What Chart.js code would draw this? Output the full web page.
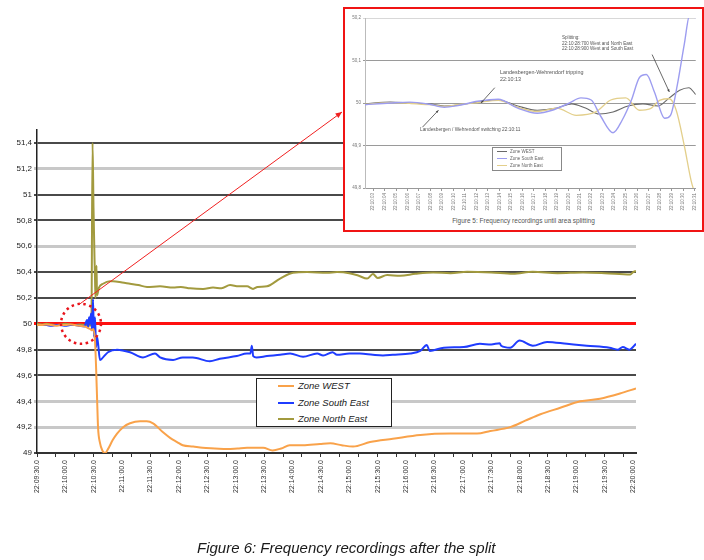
<!DOCTYPE html>
<html>
<head>
<meta charset="utf-8">
<title>Frequency recordings after the split</title>
<script src="https://cdn.jsdelivr.net/npm/chart.js@4.4.1/dist/chart.umd.min.js"></script>
<style>
  body { margin: 0; background: #fff; font-family: 'Liberation Sans', Arial, sans-serif; }
  #page { position: relative; width: 704px; height: 560px; overflow: hidden; background: #fff; }
  #mainBox { position: absolute; left: 0; top: 0; width: 704px; height: 560px; }

  #legend { position: absolute; left: 256px; top: 378px; width: 134px; height: 47px; border: 1.5px solid #222; background: #fff; font-size: 9.5px; font-style: italic; color: #222; }
  #legend div { position: absolute; left: 21px; height: 12px; line-height: 12px; white-space: nowrap; }
  #legend span { display: inline-block; width: 16px; height: 2px; vertical-align: middle; margin-right: 4px; }

  #inset { position: absolute; left: 343px; top: 7px; width: 361px; height: 225px; box-sizing: border-box; border: 2px solid #f01414; background: #fff; overflow: hidden; }
  #insetBox { position: absolute; left: 0; top: 0; width: 357px; height: 205px; }
  .note { position: absolute; font-size: 5px; line-height: 6px; color: #555; white-space: nowrap; }
  #insetLegend { position: absolute; left: 147px; top: 138px; width: 68px; height: 22px; border: 1px solid #888; background: #fff; font-size: 4.5px; color: #666; }
  #insetLegend div { position: absolute; left: 4px; height: 6px; line-height: 6px; white-space: nowrap; }
  #insetLegend span { display: inline-block; width: 10px; height: 1px; vertical-align: middle; margin-right: 3px; }
  #insetCaption { position: absolute; left: 0; width: 357px; top: 208px; text-align: center; font-size: 6.5px; color: #555; }

  #caption { position: absolute; left: 197px; top: 539px; font-size: 15px; font-style: italic; color: #1a1a1a; white-space: nowrap; }
</style>
</head>
<body>
<div id="page">
  <div id="mainBox"><canvas id="mainChart"></canvas></div>

  <div id="legend">
    <div style="top:1px"><span style="background:#f9a24a"></span>Zone WEST</div>
    <div style="top:18px"><span style="background:#1f3cff"></span>Zone South East</div>
    <div style="top:34px"><span style="background:#a29a3e"></span>Zone North East</div>
  </div>

  <div id="inset">
    <div id="insetBox"><canvas id="insetChart"></canvas></div>
    <div class="note" style="left:217px; top:26px; font-size:4.6px; line-height:5.5px">Splitting:<br>22:10:28:700 West and North East<br>22:10:28:900 West and South East</div>
    <div class="note" style="left:155px; top:60px; font-size:5.4px; line-height:6.5px">Landesbergen-Wehrendorf tripping<br>22:10:13</div>
    <div class="note" style="left:75px; top:118px; font-size:4.8px">Landesbergen / Wehrendorf switching 22:10:11</div>
    <div id="insetLegend">
      <div style="top:1px"><span style="background:#6a6a6a"></span>Zone WEST</div>
      <div style="top:8px"><span style="background:#9d9df0"></span>Zone South East</div>
      <div style="top:15px"><span style="background:#e3cf8b"></span>Zone North East</div>
    </div>
    <div id="insetCaption">Figure 5: Frequency recordings until area splitting</div>
  </div>

  <div id="caption">Figure 6: Frequency recordings after the split</div>
</div>

<script>
// --------------------------------------------------------------------
// Data (seconds after 22:09:30, frequency in Hz)
// --------------------------------------------------------------------
const timeTicks = ['22:09:30.0', '22:10:00.0', '22:10:30.0', '22:11:00.0', '22:11:30.0', '22:12:00.0',
    '22:12:30.0', '22:13:00.0', '22:13:30.0', '22:14:00.0', '22:14:30.0', '22:15:00.0', '22:15:30.0',
    '22:16:00.0', '22:16:30.0', '22:17:00.0', '22:17:30.0', '22:18:00.0', '22:18:30.0', '22:19:00.0',
    '22:19:30.0', '22:20:00.0'];
const hzTicks = [49, 49.2, 49.4, 49.6, 49.8, 50, 50.2, 50.4, 50.6, 50.8, 51, 51.2, 51.4];
const hzLabels = ['49', '49,2', '49,4', '49,6', '49,8', '50', '50,2', '50,4', '50,6', '50,8', '51', '51,2', '51,4'];

const westSec = [0, 5, 10, 15, 20, 25, 30, 35, 40, 45,
    50, 53, 56, 58, 59.5, 61.3, 62.5, 63.5, 64.5, 66.5,
    69, 72, 75, 80, 84.6, 91, 98.3, 108.9, 116, 122.6,
    133.2, 141, 148, 154, 165, 175, 188, 201, 212, 222,
    239, 249, 258, 267, 281, 299, 310, 322, 334, 352,
    376, 405, 437, 465, 479, 500, 516, 532, 553, 574,
    595, 616, 633];
const westHz = [49.99, 49.99, 49.995, 49.99, 49.985, 49.99, 49.99, 49.995, 49.99, 49.985,
    49.98, 49.97, 49.96, 49.95, 49.96, 49.87, 49.65, 49.42, 49.2, 49.08,
    49.02, 49.0, 49.03, 49.1, 49.15, 49.2, 49.23, 49.245, 49.245, 49.23,
    49.16, 49.115, 49.085, 49.06, 49.05, 49.04, 49.035, 49.03, 49.035, 49.04,
    49.04, 49.02, 49.035, 49.06, 49.06, 49.07, 49.075, 49.06, 49.05, 49.085,
    49.11, 49.14, 49.15, 49.15, 49.17, 49.2, 49.25, 49.3, 49.35, 49.4,
    49.42, 49.46, 49.5];

const southEastSec = [0, 5, 10, 15, 20, 25, 30, 35, 40, 45,
    50, 52.9, 53.9, 55, 56, 57.1, 58.1, 59.2, 60.2, 61.3,
    62.4, 63.4, 64.5, 66.6, 69.8, 75, 84.6, 98.3, 112, 124.7,
    130, 143.8, 154, 164.6, 182.6, 193.2, 211.2, 221.8, 225.5, 227,
    228.5, 232, 243, 256.9, 267.5, 281.2, 296, 302.4, 312.3, 317,
    330, 341.3, 355, 365.6, 376, 394.3, 405, 412, 415, 429.9,
    451, 468, 480, 489, 490.5, 500, 510, 524, 539, 560,
    581, 605, 614, 619, 626, 633];
const southEastHz = [49.99, 49.99, 49.99, 49.985, 49.99, 49.99, 49.985, 49.99, 49.99, 49.985,
    49.98, 50.03, 49.97, 50.05, 50.0, 50.08, 49.95, 50.19, 49.9, 50.05,
    49.82, 49.9, 49.85, 49.72, 49.74, 49.78, 49.8, 49.78, 49.74, 49.77,
    49.74, 49.72, 49.74, 49.74, 49.71, 49.73, 49.75, 49.77, 49.77, 49.83,
    49.75, 49.74, 49.75, 49.76, 49.77, 49.745, 49.77, 49.755, 49.78, 49.76,
    49.77, 49.77, 49.76, 49.755, 49.76, 49.77, 49.79, 49.835, 49.79, 49.815,
    49.82, 49.845, 49.84, 49.85, 49.83, 49.815, 49.87, 49.83, 49.86, 49.845,
    49.83, 49.815, 49.8, 49.82, 49.8, 49.845];

const northEastSec = [0, 5, 10, 15, 20, 25, 30, 35, 40, 45, 50, 55,
    57.5, 58.7, 59.7, 60.8, 61.3, 61.8, 62.9, 63.4,
    65.5, 69.8, 77.2, 80.3, 90, 98.3, 107, 116.3, 130, 143.8,
    152, 161.8, 175.6, 186, 195, 204, 213, 222, 228.3, 233,
    243, 256.9, 270.6, 285.4, 306.6, 317, 330, 340, 348.8, 355,
    360, 370, 383.7, 400, 418.5, 437, 454.5, 480, 503, 524,
    550, 577, 600, 627, 630, 633];
const northEastHz = [50.0, 49.995, 50.0, 49.995, 49.99, 49.995, 50.0, 49.995, 49.99, 49.995, 49.99, 49.985,
    50.0, 51.4, 50.9, 50.5, 50.35, 50.2, 50.45, 50.22,
    50.28, 50.31, 50.33, 50.33, 50.32, 50.31, 50.3, 50.285, 50.29, 50.28,
    50.285, 50.275, 50.27, 50.28, 50.275, 50.3, 50.29, 50.29, 50.27, 50.285,
    50.29, 50.35, 50.395, 50.4, 50.395, 50.4, 50.392, 50.372, 50.35, 50.385,
    50.355, 50.377, 50.372, 50.387, 50.397, 50.392, 50.402, 50.397, 50.387, 50.402,
    50.392, 50.397, 50.392, 50.382, 50.4, 50.41];

// Inset (seconds after 22:10:00)
const insetTicks = ['22:10:03', '22:10:04', '22:10:05', '22:10:06', '22:10:07', '22:10:08', '22:10:09',
    '22:10:10', '22:10:11', '22:10:12', '22:10:13', '22:10:14', '22:10:15', '22:10:16', '22:10:17',
    '22:10:18', '22:10:19', '22:10:20', '22:10:21', '22:10:22', '22:10:23', '22:10:24', '22:10:25',
    '22:10:26', '22:10:27', '22:10:28', '22:10:29', '22:10:30', '22:10:31'];
const insetHzTicks = [49.8, 49.9, 50, 50.1, 50.2];
const insetHzLabels = ['49,8', '49,9', '50', '50,1', '50,2'];

const insetWestSec = [2.3, 4.5, 6.2, 7.9, 9.2, 10.4, 12.1, 13.9, 15.6, 17.3, 19.0, 20.3, 21.5, 22.7,
    23.9, 25.2, 26.5, 27.8, 28.8, 29.7, 30.5, 31.1];
const insetWestHz = [49.998, 50.002, 50.0, 49.998, 49.993, 49.995, 50.002, 50.007, 49.993, 49.983, 49.988,
    49.998, 49.988, 49.974, 49.979, 49.993, 49.998, 49.993, 50.012, 50.03, 50.036, 50.02];

const insetSouthEastSec = [2.3, 4.5, 6.2, 7.9, 9.2, 10.4, 12.1, 13.9, 15.6, 17.3, 18.6, 20.1, 21.1, 22.0,
    22.8, 23.9, 24.7, 25.5, 26.2, 26.8, 27.5, 28.4, 28.9, 29.5, 30.1, 30.6, 31.1];
const insetSouthEastHz = [49.996, 50.0, 50.002, 49.997, 49.99, 49.994, 50.004, 50.009, 49.988, 49.976, 49.983,
    50.0, 50.012, 50.007, 49.97, 49.93, 49.96, 50.007, 50.06, 50.067, 50.026, 49.964, 49.971, 50.043,
    50.138, 50.21, 50.2];

const insetNorthEastSec = [2.3, 4.5, 6.2, 7.9, 9.2, 10.4, 12.1, 13.9, 15.6, 17.3, 19.0, 20.7, 22.4, 23.7,
    25.0, 26.2, 27.1, 28.0, 28.8, 29.4, 30.1, 30.7, 31.1];
const insetNorthEastHz = [49.997, 50.001, 49.999, 49.996, 49.992, 49.996, 50.001, 50.006, 49.99, 49.98, 49.988,
    49.971, 49.979, 50.007, 50.012, 49.983, 49.986, 50.007, 50.01, 49.983, 49.9, 49.817, 49.78];

// annotation anchors (data space)
const zoomSpot = { sec: 46.5, hz: 50, radius: 20 };
const insetArrows = [
    { from: [13.6, 50.036], to: [12.4, 50.0] },
    { from: [7.3, 49.943], to: [8.7, 49.983] },
    { from: [27.3, 50.114], to: [28.8, 50.026] }
];

// --------------------------------------------------------------------
// Helpers
// --------------------------------------------------------------------
const FONT = "'Liberation Sans', Arial, sans-serif";
const toPoints = (xs, ys) => xs.map((x, i) => ({ x: x, y: ys[i] }));
const lightLines = [49.2, 49.4, 50.6, 51.2];

function gridColor(v) {
    v = Math.round(v * 10) / 10;
    if (v === 50) return '#ff1010';
    if (lightLines.includes(v)) return '#c8c8c8';
    return '#4a4a4a';
}
function gridWidth(v) {
    v = Math.round(v * 10) / 10;
    if (v === 50) return 3;
    if (lightLines.includes(v)) return 3;
    return 2;
}

function drawArrow(ctx, x1, y1, x2, y2, head) {
    const a = Math.atan2(y2 - y1, x2 - x1);
    ctx.beginPath();
    ctx.moveTo(x1, y1);
    ctx.lineTo(x2, y2);
    ctx.stroke();
    ctx.beginPath();
    ctx.moveTo(x2, y2);
    ctx.lineTo(x2 - head * Math.cos(a - 0.4), y2 - head * Math.sin(a - 0.4));
    ctx.lineTo(x2 - head * Math.cos(a + 0.4), y2 - head * Math.sin(a + 0.4));
    ctx.closePath();
    ctx.fill();
}

// dotted circle + pointer to the inset
const zoomMarker = {
    id: 'zoomMarker',
    afterDatasetsDraw(chart) {
        const { ctx, scales: { x, y } } = chart;
        const cx = x.getPixelForValue(zoomSpot.sec);
        const cy = y.getPixelForValue(zoomSpot.hz);
        const inset = document.getElementById('inset');
        ctx.save();
        ctx.strokeStyle = '#e8141c';
        ctx.lineWidth = 2.5;
        ctx.setLineDash([2.5, 3.5]);
        ctx.beginPath();
        ctx.arc(cx, cy, zoomSpot.radius, 0, Math.PI * 2);
        ctx.stroke();
        ctx.setLineDash([]);
        ctx.lineWidth = 1;
        ctx.strokeStyle = '#f02020';
        ctx.fillStyle = '#f02020';
        drawArrow(ctx, cx - 1, cy - zoomSpot.radius, inset.offsetLeft - 1, inset.offsetTop + 105, 7);
        ctx.restore();
    }
};

const insetNotes = {
    id: 'insetNotes',
    afterDatasetsDraw(chart) {
        const { ctx, scales: { x, y } } = chart;
        ctx.save();
        ctx.strokeStyle = '#444';
        ctx.fillStyle = '#444';
        ctx.lineWidth = 0.8;
        insetArrows.forEach(a => {
            drawArrow(ctx, x.getPixelForValue(a.from[0]), y.getPixelForValue(a.from[1]),
                x.getPixelForValue(a.to[0]), y.getPixelForValue(a.to[1]), 3);
        });
        ctx.restore();
    }
};

// --------------------------------------------------------------------
// Main chart
// --------------------------------------------------------------------
new Chart(document.getElementById('mainChart'), {
    type: 'line',
    data: {
        datasets: [
            { label: 'Zone WEST', data: toPoints(westSec, westHz), borderColor: '#f9a24a', borderWidth: 2 },
            { label: 'Zone South East', data: toPoints(southEastSec, southEastHz), borderColor: '#1f3cff', borderWidth: 2 },
            { label: 'Zone North East', data: toPoints(northEastSec, northEastHz), borderColor: '#a29a3e', borderWidth: 2 }
        ]
    },
    options: {
        responsive: true,
        maintainAspectRatio: false,
        animation: false,
        layout: { padding: { left: 0, top: 130, right: 68, bottom: 0 } },
        elements: {
            point: { radius: 0 },
            line: { cubicInterpolationMode: 'monotone', borderJoinStyle: 'round' }
        },
        plugins: { legend: { display: false }, tooltip: { enabled: false } },
        scales: {
            x: {
                type: 'linear',
                min: 0,
                max: 633,
                afterBuildTicks: s => {
                    const t = [];
                    for (let v = 0; v <= 630; v += 10) t.push({ value: v });
                    s.ticks = t;
                },
                afterFit: s => { s.height = 107; },
                ticks: {
                    autoSkip: false,
                    minRotation: 90,
                    maxRotation: 90,
                    padding: 3,
                    color: '#333',
                    font: { size: 7, family: FONT },
                    callback: v => (Math.round(v) % 30 === 0 ? timeTicks[Math.round(v) / 30] : '')
                },
                grid: {
                    drawOnChartArea: false,
                    tickLength: 4,
                    tickColor: c => (c.tick && Math.round(c.tick.value) % 20 === 0 ? '#333' : 'rgba(0,0,0,0)')
                },
                border: { color: '#333', width: 2 }
            },
            y: {
                min: 49,
                max: 51.5,
                afterBuildTicks: s => { s.ticks = hzTicks.map(v => ({ value: v })); },
                afterFit: s => { s.width = 37; },
                ticks: {
                    padding: 2,
                    color: '#222',
                    font: { size: 8, family: FONT },
                    callback: (v, i) => hzLabels[i]
                },
                grid: {
                    color: c => gridColor(c.tick.value),
                    lineWidth: c => gridWidth(c.tick.value),
                    tickLength: 3
                },
                border: { color: '#222', width: 1.5 }
            }
        }
    },
    plugins: [zoomMarker]
});

// --------------------------------------------------------------------
// Inset chart (recordings until splitting)
// --------------------------------------------------------------------
new Chart(document.getElementById('insetChart'), {
    type: 'line',
    data: {
        datasets: [
            { label: 'Zone South East', data: toPoints(insetSouthEastSec, insetSouthEastHz), borderColor: '#9d9df0', borderWidth: 1.4, order: 0 },
            { label: 'Zone North East', data: toPoints(insetNorthEastSec, insetNorthEastHz), borderColor: '#e3cf8b', borderWidth: 1.3, order: 1 },
            { label: 'Zone WEST', data: toPoints(insetWestSec, insetWestHz), borderColor: '#6a6a6a', borderWidth: 1.1, order: 2 }
        ]
    },
    options: {
        responsive: true,
        maintainAspectRatio: false,
        animation: false,
        layout: { padding: { left: 0, top: 9, right: 0, bottom: 0 } },
        elements: {
            point: { radius: 0 },
            line: { cubicInterpolationMode: 'monotone' }
        },
        plugins: { legend: { display: false }, tooltip: { enabled: false } },
        scales: {
            x: {
                type: 'linear',
                min: 2.3,
                max: 31.1,
                afterBuildTicks: s => { s.ticks = insetTicks.map((l, i) => ({ value: i + 3 })); },
                afterFit: s => { s.height = 26; },
                ticks: {
                    autoSkip: false,
                    minRotation: 90,
                    maxRotation: 90,
                    padding: 2,
                    color: '#777',
                    font: { size: 4.5, family: FONT },
                    callback: (v, i) => insetTicks[i]
                },
                grid: { drawOnChartArea: false, tickLength: 3, tickColor: '#999' },
                border: { color: '#999', width: 1 }
            },
            y: {
                min: 49.8,
                max: 50.2,
                afterBuildTicks: s => { s.ticks = insetHzTicks.map(v => ({ value: v })); },
                afterFit: s => { s.width = 20; },
                ticks: {
                    padding: 2,
                    color: '#777',
                    font: { size: 4.5, family: FONT },
                    callback: (v, i) => insetHzLabels[i]
                },
                grid: {
                    color: c => (c.tick.value > 50.15 ? '#d8d8d8' : '#9a9a9a'),
                    lineWidth: 1,
                    tickLength: 2
                },
                border: { color: '#bbb', width: 1 }
            }
        }
    },
    plugins: [insetNotes]
});
</script>
</body>
</html>
